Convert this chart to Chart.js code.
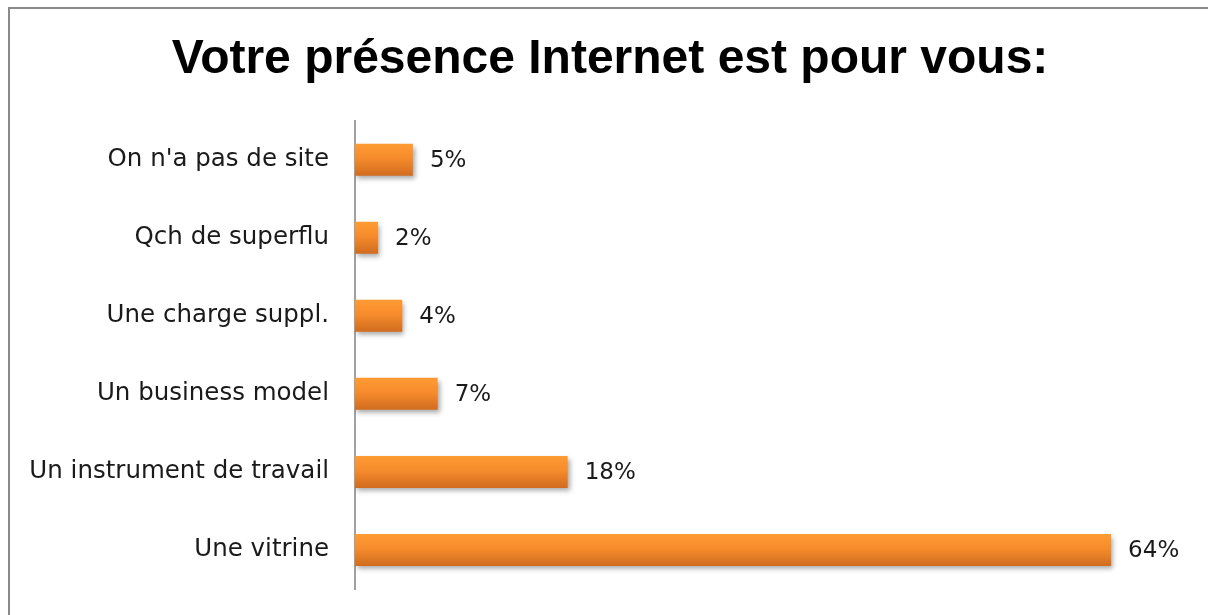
<!DOCTYPE html>
<html>
<head>
<meta charset="utf-8">
<script src="https://cdn.jsdelivr.net/npm/chart.js@4.4.1/dist/chart.umd.min.js"></script>
<style>
html,body{margin:0;padding:0;background:#fff;}
#wrap{position:relative;width:1208px;height:615px;}
</style>
</head>
<body>
<div id="wrap"><canvas id="c" width="1208" height="615"></canvas></div>
<script>
const categories = ["On n'a pas de site", "Qch de superflu", "Une charge suppl.", "Un business model", "Un instrument de travail", "Une vitrine"];
const values = [4.9, 1.95, 4.0, 7.0, 18.0, 64.0];
const titleText = "Votre présence Internet est pour vous:";

const framePlugin = {
  id: 'frame',
  beforeDraw(chart) {
    const ctx = chart.ctx;
    ctx.save();
    ctx.fillStyle = '#fff';
    ctx.fillRect(0, 0, chart.width, chart.height);
    ctx.strokeStyle = '#8a8a8a';
    ctx.lineWidth = 2;
    ctx.beginPath();
    ctx.moveTo(9, chart.height);
    ctx.lineTo(9, 8);
    ctx.lineTo(chart.width, 8);
    ctx.stroke();
    ctx.restore();
  }
};

const shadowPlugin = {
  id: 'barShadow',
  beforeDatasetsDraw(chart) {
    const ctx = chart.ctx;
    ctx.save();
    ctx.shadowColor = 'rgba(0,0,0,0.35)';
    ctx.shadowBlur = 5;
    ctx.shadowOffsetX = 2;
    ctx.shadowOffsetY = 3;
  },
  afterDatasetsDraw(chart) {
    chart.ctx.restore();
    const ctx = chart.ctx;
    const meta = chart.getDatasetMeta(0);
    ctx.save();
    ctx.font = '23px "DejaVu Sans"';
    ctx.fillStyle = '#1a1a1a';
    ctx.textAlign = 'left';
    ctx.textBaseline = 'middle';
    meta.data.forEach((bar, i) => {
      ctx.fillText(Math.round(values[i]) + '%', bar.x + 17, bar.y + 1);
    });
    ctx.restore();
  }
};

new Chart(document.getElementById('c'), {
  type: 'bar',
  data: {
    labels: categories,
    datasets: [{
      data: values,
      backgroundColor: (context) => {
        const chart = context.chart;
        const ys = chart.scales.y;
        if (!ys || !chart.chartArea) return '#F58A2A';
        const y = ys.getPixelForValue(context.dataIndex);
        const g = chart.ctx.createLinearGradient(0, y - 16, 0, y + 16);
        g.addColorStop(0, '#FE9B33');
        g.addColorStop(0.45, '#F68C2C');
        g.addColorStop(1, '#D16C1F');
        return g;
      },
      borderWidth: 0,
      barPercentage: 0.41,
      categoryPercentage: 1.0
    }]
  },
  plugins: [framePlugin, shadowPlugin],
  options: {
    indexAxis: 'y',
    responsive: false,
    animation: false,
    layout: { padding: { top: 0, right: 0, bottom: 26, left: 12 } },
    plugins: {
      legend: { display: false },
      tooltip: { enabled: false },
      title: {
        display: true,
        text: titleText,
        color: '#000',
        font: { family: '"Liberation Sans", Arial, sans-serif', size: 48, weight: 'bold', lineHeight: 1.2 },
        padding: { top: 31, bottom: 32 }
      }
    },
    scales: {
      x: {
        display: false,
        min: 0,
        max: 72.2
      },
      y: {
        afterFit: (s) => { s.width = 343; s.paddingTop = 0; s.paddingBottom = 0; },
        grid: { display: false, drawTicks: false },
        border: { display: true, color: '#a0a0a0', width: 2 },
        ticks: {
          color: '#1a1a1a',
          padding: 26,
          font: { family: '"DejaVu Sans", sans-serif', size: 24.5 }
        }
      }
    }
  }
});
</script>
</body>
</html>
